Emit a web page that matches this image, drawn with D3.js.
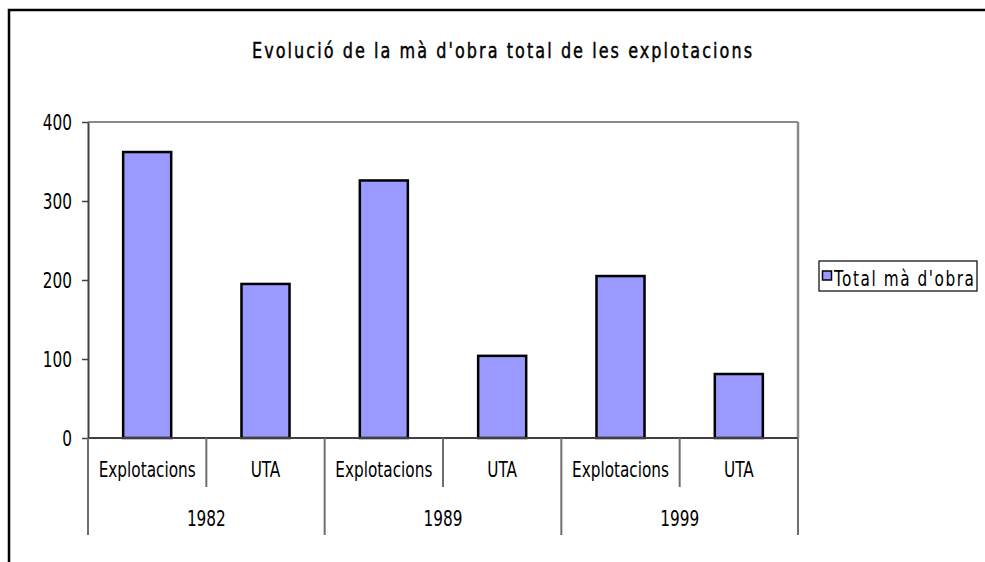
<!DOCTYPE html>
<html>
<head>
<meta charset="utf-8">
<script src="https://cdn.jsdelivr.net/npm/d3@7"></script>
<style>
  html, body { margin: 0; padding: 0; background: #fff; }
  svg { display: block; }
  text { font-family: "DejaVu Sans Condensed", "DejaVu Sans", sans-serif; font-stretch: condensed; fill: #000; }
</style>
</head>
<body>
<svg id="chart" width="985" height="562"></svg>
<script>
// ---- data ----
const title = "Evolució de la mà d'obra total de les explotacions";
const years = ["1982", "1989", "1999"];
const subCategories = ["Explotacions", "UTA"];
const values = [362, 195, 326, 104, 205, 81];   // Explotacions, UTA per year
const yTicks = [0, 100, 200, 300, 400];
const seriesName = "Total mà d'obra";

// ---- layout ----
const W = 985, H = 562;
const plot = { left: 88, right: 798, top: 122, bottom: 438 };
const barFill = "#9999FF";
const SX = 0.81;          // horizontal squeeze to mimic the narrow font
const FS = "21px";

const svg = d3.select("#chart");

// helper: narrow text placed at (x,y)
function narrow(parent, x, y, str, anchor) {
  return parent.append("text")
    .attr("transform", `translate(${x},${y}) scale(${SX},1)`)
    .attr("text-anchor", anchor || "start")
    .style("font-size", FS)
    .text(str);
}

// outer frame (clipped by window on right/bottom)
svg.append("path")
  .attr("d", `M9,${H + 5} L9,10 L${W + 5},10`)
  .attr("fill", "none").attr("stroke", "#000").attr("stroke-width", 2.5);

// title
narrow(svg, 252, 58, title)
  .attr("textLength", 500 / SX).attr("lengthAdjust", "spacing")
  .style("font-size", "22px")
  .attr("stroke", "#000").attr("stroke-width", 0.45);

// data rows
const rows = [];
years.forEach((y, gi) => subCategories.forEach((s, si) => {
  rows.push({ key: y + "|" + s, year: y, sub: s, value: values[gi * subCategories.length + si] });
}));

const x = d3.scaleBand()
  .domain(rows.map(d => d.key))
  .range([plot.left, plot.right])
  .paddingInner(0.594).paddingOuter(0.297);

const xg = d3.scaleBand().domain(years).range([plot.left, plot.right]).padding(0);

const y = d3.scaleLinear().domain([0, 400]).range([plot.bottom, plot.top]);

// plot area border: top and right (gray)
svg.append("line")
  .attr("x1", plot.left).attr("x2", plot.right)
  .attr("y1", y(400)).attr("y2", y(400))
  .attr("stroke", "#8a8a8a").attr("stroke-width", 2);
svg.append("line")
  .attr("x1", plot.right).attr("x2", plot.right)
  .attr("y1", y(400)).attr("y2", plot.bottom)
  .attr("stroke", "#8a8a8a").attr("stroke-width", 2.5);

// bars
svg.append("g").selectAll("rect").data(rows).join("rect")
  .attr("x", d => x(d.key))
  .attr("y", d => y(d.value))
  .attr("width", x.bandwidth())
  .attr("height", d => y(0) - y(d.value))
  .attr("fill", barFill)
  .attr("stroke", "#000").attr("stroke-width", 2.5);

// y axis
const yAxis = svg.append("g")
  .attr("transform", `translate(${plot.left},0)`)
  .call(d3.axisLeft(y).tickValues(yTicks).tickFormat(d3.format("d")).tickSize(6).tickSizeOuter(0));
yAxis.select(".domain").attr("stroke", "#404040").attr("stroke-width", 2);
yAxis.selectAll(".tick line").attr("stroke", "#404040").attr("stroke-width", 1.5);
yAxis.selectAll(".tick text")
  .attr("x", -16 / SX)
  .attr("dy", "0.36em")
  .attr("transform", `scale(${SX},1)`)
  .attr("font-family", null).attr("font-size", null)
  .style("font-size", FS);

// baseline
svg.append("line")
  .attr("x1", plot.left).attr("x2", plot.right)
  .attr("y1", y(0)).attr("y2", y(0))
  .attr("stroke", "#404040").attr("stroke-width", 2);

// category separators (short: between sub-categories, long: between years)
const step = x.step();
const boundaries = d3.range(rows.length + 1).map(i => plot.left + i * step);
svg.append("g").selectAll("line").data(boundaries).join("line")
  .attr("x1", d => d).attr("x2", d => d)
  .attr("y1", y(0))
  .attr("y2", (d, i) => (i % subCategories.length === 0) ? 535 : 487)
  .attr("stroke", "#6e6e6e").attr("stroke-width", 2);

// sub-category labels
const subG = svg.append("g");
rows.forEach((d, i) => narrow(subG, plot.left + (i + 0.5) * step, 477, d.sub, "middle"));

// year labels
const yrG = svg.append("g");
years.forEach(d => narrow(yrG, xg(d) + xg.bandwidth() / 2, 526, d, "middle"));

// legend
const lg = svg.append("g");
lg.append("rect")
  .attr("x", 819).attr("y", 261).attr("width", 158).attr("height", 30)
  .attr("fill", "#fff").attr("stroke", "#000").attr("stroke-width", 1.2);
lg.append("rect")
  .attr("x", 822.5).attr("y", 271).attr("width", 9).attr("height", 9)
  .attr("fill", barFill).attr("stroke", "#000").attr("stroke-width", 1.5);
narrow(lg, 834, 286, seriesName)
  .attr("textLength", 140 / SX).attr("lengthAdjust", "spacing");
</script>
</body>
</html>
